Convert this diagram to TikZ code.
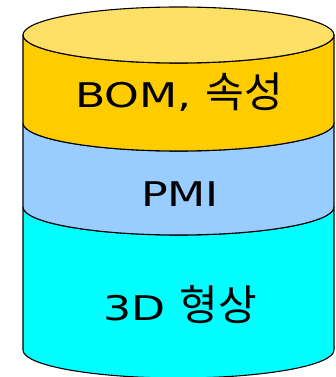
\documentclass[tikz,border=0pt]{standalone}
\usepackage{fontspec}
\newfontfamily\latinf[FakeStretch=1.3]{DejaVu Sans}
\newfontfamily\krf{Noto Sans CJK KR}
\newcommand\latxt[1]{{\fontsize{34}{40}\selectfont\latinf #1}}
\newcommand\krtxt[1]{{\fontsize{42}{48}\selectfont\krf #1}}
\definecolor{topface}{RGB}{255,224,102}
\definecolor{yellowside}{RGB}{255,204,0}
\definecolor{bluelayer}{RGB}{153,204,255}
\definecolor{cyanlayer}{RGB}{0,255,255}
\tikzset{
  layer/.style={draw=black, line width=1.1pt, line join=round},
  lbl/.style={inner sep=0pt, anchor=base, text=black},
  ell/.style={x radius=155.5, y radius=28}
}
\begin{document}
\begin{tikzpicture}[x=1pt,y=1pt]
\useasboundingbox (0,0) rectangle (335,-377);
% bottom layer (cyan)
\path[layer, fill=cyanlayer] (23,-207) -- (23,-350)
  arc[start angle=180, end angle=360, ell] -- (334,-207)
  arc[start angle=0, end angle=-180, ell] -- cycle;
% middle layer (blue)
\path[layer, fill=bluelayer] (23,-123) -- (23,-207)
  arc[start angle=180, end angle=360, ell] -- (334,-123)
  arc[start angle=0, end angle=-180, ell] -- cycle;
% top layer (yellow)
\path[layer, fill=yellowside] (23,-35) -- (23,-123)
  arc[start angle=180, end angle=360, ell] -- (334,-35)
  arc[start angle=0, end angle=-180, ell] -- cycle;
% top face
\path[layer, fill=topface] (178.5,-35) ellipse[ell];
% labels
\node[lbl] (bom) at (179,-108) {\latxt{BOM, }\krtxt{속성}};
\node[lbl] (pmi) at (180,-206) {\latxt{PMI}};
\node[lbl] (shape) at (180,-320) {\latxt{3D }\krtxt{형상}};
\end{tikzpicture}
\end{document}
